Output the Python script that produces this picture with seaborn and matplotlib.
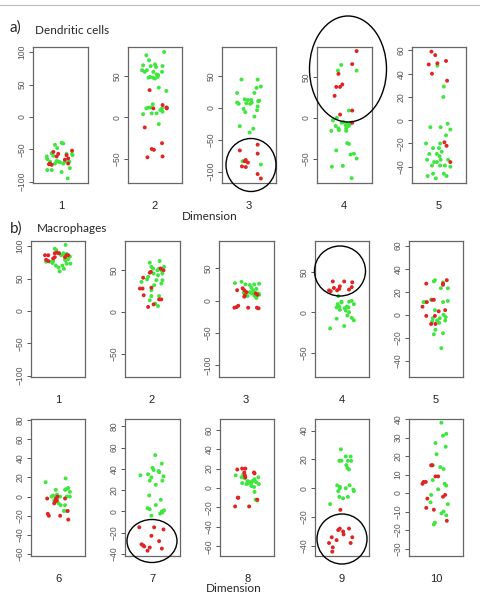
import pandas as pd
import matplotlib
matplotlib.use("Agg")
import matplotlib.pyplot as plt
import seaborn as sns
from matplotlib.patches import Ellipse
from matplotlib.lines import Line2D

sns.set_style("white")
plt.rcParams["font.family"] = ["Liberation Sans", "DejaVu Sans"]

RED = "#e02424"
GREEN = "#3ee63e"

# (jitter position within panel, value) for each dimension
a1_green = [(0.40, -43), (0.52, -40), (0.55, -41), (0.44, -48), (0.34, -56), (0.37, -60), (0.61, -57),
            (0.71, -57), (0.25, -61), (0.26, -65), (0.31, -69), (0.46, -69), (0.49, -70), (0.58, -69),
            (0.64, -70), (0.66, -69), (0.55, -72), (0.40, -72), (0.43, -68), (0.26, -82), (0.34, -82),
            (0.52, -85), (0.67, -79), (0.63, -95), (0.72, -59)]
a1_red = [(0.37, -54), (0.46, -57), (0.43, -61), (0.61, -59), (0.64, -64), (0.71, -52), (0.31, -72),
          (0.34, -74), (0.29, -73), (0.64, -72), (0.58, -66)]

a2_green = [(0.34, 75), (0.67, 79), (0.39, 69), (0.28, 63), (0.31, 55), (0.26, 57), (0.50, 64), (0.52, 61),
            (0.42, 62), (0.64, 62), (0.63, 55), (0.53, 52), (0.55, 49), (0.50, 47), (0.46, 48), (0.41, 49),
            (0.56, 51), (0.38, 48), (0.71, 32), (0.57, 36), (0.47, 55), (0.35, 57), (0.46, 16), (0.38, 12),
            (0.42, 12), (0.34, 11), (0.63, 11), (0.53, 5), (0.64, 7), (0.72, 12), (0.60, 9), (0.28, 4),
            (0.57, -8), (0.44, 5)]
a2_red = [(0.40, 33), (0.47, 11), (0.64, 15), (0.71, 12), (0.72, 11), (0.31, -12), (0.44, -38), (0.48, -39),
          (0.63, -31), (0.64, -47), (0.36, -48)]

a3_green = [(0.36, 44), (0.66, 44), (0.72, 33), (0.64, 31), (0.60, 23), (0.28, 23), (0.28, 8), (0.31, 6),
            (0.42, 13), (0.48, 12), (0.54, 12), (0.45, 7), (0.67, 10), (0.40, -2), (0.43, -7), (0.66, 2),
            (0.65, -4), (0.55, 8), (0.60, -14), (0.33, -29), (0.51, -39), (0.58, -33), (0.38, -84),
            (0.72, -89), (0.69, 11), (0.52, 6)]
a3_red = [(0.33, -67), (0.66, -58), (0.66, -72), (0.44, -82), (0.48, -86), (0.37, -92), (0.44, -93),
          (0.66, -104), (0.72, -111), (0.42, -84)]

a4_green = [(0.44, 65), (0.38, 58), (0.72, 58), (0.58, 9), (0.36, 0), (0.29, -3), (0.34, -10), (0.48, -5),
            (0.55, -7), (0.52, -9), (0.58, -10), (0.53, -13), (0.39, -13), (0.26, -16), (0.40, -15),
            (0.53, -16), (0.55, -31), (0.58, -32), (0.35, -40), (0.61, -45), (0.67, -44), (0.72, -50),
            (0.27, -60), (0.47, -59), (0.63, -74), (0.45, -6), (0.61, -7)]
a4_red = [(0.72, 82), (0.64, 66), (0.39, 54), (0.46, 41), (0.35, 38), (0.42, 38), (0.32, 27), (0.64, 9),
          (0.42, 4), (0.64, -6)]

a5_green = [(0.47, 47), (0.59, 29), (0.58, 20), (0.34, -6), (0.53, -6), (0.66, -3), (0.71, -8), (0.63, -13),
            (0.26, -20), (0.39, -24), (0.52, -20), (0.32, -29), (0.46, -29), (0.51, -31), (0.53, -34),
            (0.41, -36), (0.46, -36), (0.67, -34), (0.28, -34), (0.37, -39), (0.52, -39), (0.61, -39),
            (0.71, -40), (0.29, -48), (0.39, -46), (0.44, -50), (0.59, -46), (0.64, -48), (0.50, -24),
            (0.55, -27)]
a5_red = [(0.36, 59), (0.43, 56), (0.31, 48), (0.47, 49), (0.63, 51), (0.37, 40), (0.65, 34), (0.60, -19),
          (0.64, -22), (0.71, -36)]

b1_green = [(0.64, 102), (0.44, 96), (0.47, 94), (0.52, 89), (0.60, 89), (0.66, 88), (0.56, 86), (0.63, 85),
            (0.72, 84), (0.69, 80), (0.64, 78), (0.73, 73), (0.66, 73), (0.28, 76), (0.35, 76), (0.40, 74),
            (0.46, 70), (0.51, 67), (0.58, 70), (0.63, 79), (0.53, 61), (0.61, 65), (0.41, 77)]
b1_red = [(0.26, 86), (0.32, 86), (0.44, 89), (0.48, 90), (0.52, 89), (0.41, 81), (0.44, 83), (0.66, 86),
          (0.69, 86), (0.28, 79), (0.32, 77), (0.63, 83)]

b2_green = [(0.45, 59), (0.63, 61), (0.48, 54), (0.51, 52), (0.59, 50), (0.62, 52), (0.66, 50), (0.71, 54),
            (0.68, 46), (0.60, 44), (0.52, 46), (0.42, 42), (0.30, 36), (0.40, 39), (0.57, 38), (0.68, 38),
            (0.66, 34), (0.53, 32), (0.48, 26), (0.62, 19), (0.48, 19), (0.45, 14), (0.60, 7), (0.55, 10)]
b2_red = [(0.45, 47), (0.47, 48), (0.65, 52), (0.70, 50), (0.33, 41), (0.27, 28), (0.32, 28), (0.34, 20),
          (0.48, 29), (0.62, 15), (0.42, 6), (0.52, 9), (0.66, 15)]

b3_green = [(0.29, 27), (0.41, 29), (0.48, 25), (0.56, 24), (0.64, 25), (0.73, 26), (0.59, 20), (0.62, 16),
            (0.68, 18), (0.56, 13), (0.65, 12), (0.72, 11), (0.64, 8), (0.67, 6), (0.68, 4), (0.73, 9),
            (0.47, 9), (0.52, 7), (0.45, 12), (0.59, 11)]
b3_red = [(0.33, 16), (0.43, 19), (0.46, 16), (0.50, 13), (0.47, 8), (0.46, 6), (0.67, 11), (0.70, 9),
          (0.35, -8), (0.32, -10), (0.28, -11), (0.53, -11), (0.69, -11), (0.72, -12)]

b4_green = [(0.43, 20), (0.49, 13), (0.42, 10), (0.45, 7), (0.68, 14), (0.63, 13), (0.72, 10), (0.59, 7),
            (0.62, 6), (0.55, 5), (0.40, 6), (0.46, 3), (0.57, 2), (0.63, 0), (0.60, -4), (0.68, -7),
            (0.40, -8), (0.72, -10), (0.54, -17), (0.28, -20), (0.49, 12)]
b4_red = [(0.33, 38), (0.54, 38), (0.69, 37), (0.46, 32), (0.35, 30), (0.26, 27), (0.29, 26), (0.41, 27),
          (0.45, 29), (0.63, 28), (0.68, 31)]

b5_green = [(0.46, 29), (0.48, 30), (0.63, 28), (0.59, 23), (0.72, 23), (0.27, 11), (0.30, 11), (0.41, 13),
            (0.63, 11), (0.72, 12), (0.48, 4), (0.64, 0), (0.68, -2), (0.57, -3), (0.52, -5), (0.56, -7),
            (0.67, -5), (0.44, -3), (0.43, -6), (0.49, -13), (0.46, -17), (0.63, -16), (0.60, -29)]
b5_red = [(0.32, 27), (0.70, 30), (0.63, 27), (0.63, 26), (0.25, 7), (0.33, 11), (0.43, 13), (0.46, 13),
          (0.55, 3), (0.67, 4), (0.32, -1), (0.41, -8), (0.49, -8), (0.48, -1)]

b6_green = [(0.27, 15), (0.64, 19), (0.66, 8), (0.69, 9), (0.72, 5), (0.63, 7), (0.46, 7), (0.41, 1),
            (0.48, 2), (0.38, 0), (0.54, 0), (0.43, -4), (0.51, -7), (0.55, -9), (0.63, -9), (0.72, 0),
            (0.66, 0), (0.61, -15), (0.66, -15), (0.48, -1)]
b6_red = [(0.30, -2), (0.49, 0), (0.46, -2), (0.45, -5), (0.43, -7), (0.48, -4), (0.63, -2), (0.68, -15),
          (0.31, -18), (0.33, -20), (0.54, -20), (0.69, -24)]

b7_green = [(0.55, 53), (0.67, 45), (0.28, 34), (0.42, 35), (0.52, 39), (0.50, 41), (0.61, 38), (0.62, 37),
            (0.48, 32), (0.45, 29), (0.70, 33), (0.68, 29), (0.56, 25), (0.44, 15), (0.65, 11), (0.56, 6),
            (0.41, 3), (0.45, 2), (0.67, 0), (0.71, 1), (0.64, -2), (0.68, -1), (0.48, -4)]
b7_red = [(0.26, -15), (0.53, -15), (0.70, -17), (0.48, -23), (0.62, -28), (0.30, -31), (0.33, -32),
          (0.35, -33), (0.45, -34), (0.41, -37), (0.67, -35)]

b8_green = [(0.29, 13), (0.43, 14), (0.40, 11), (0.46, 10), (0.51, 7), (0.55, 6), (0.49, 4), (0.41, 5),
            (0.58, 5), (0.64, 9), (0.71, 11), (0.67, 6), (0.63, 8), (0.72, 4), (0.58, 2), (0.63, 1),
            (0.64, -4), (0.66, -12), (0.69, -13), (0.52, 5), (0.60, 7)]
b8_red = [(0.32, 19), (0.41, 20), (0.47, 20), (0.45, 16), (0.46, 13), (0.47, 11), (0.63, 16), (0.64, 15),
          (0.33, -10), (0.34, -10), (0.28, -19), (0.54, -19), (0.69, -12)]

b9_green = [(0.48, 27), (0.57, 22), (0.45, 19), (0.49, 19), (0.61, 19), (0.67, 19), (0.66, 22), (0.60, 14),
            (0.63, 13), (0.58, 16), (0.41, 2), (0.43, -2), (0.46, 0), (0.57, 0), (0.64, 2), (0.71, -1),
            (0.72, -2), (0.45, -6), (0.52, -7), (0.61, -6), (0.28, -11), (0.46, 1)]
b9_red = [(0.47, -15), (0.46, -28), (0.63, -28), (0.52, -30), (0.43, -29), (0.53, -32), (0.40, -36),
          (0.31, -34), (0.69, -34), (0.26, -38), (0.33, -41), (0.32, -44), (0.66, -38)]

b10_green = [(0.60, 38), (0.69, 32), (0.63, 31), (0.49, 27), (0.68, 25), (0.51, 21), (0.58, 14), (0.64, 13),
             (0.44, 7), (0.44, 15), (0.54, 2), (0.66, 5), (0.69, 4), (0.41, -1), (0.40, -5), (0.72, -6),
             (0.64, -10), (0.60, -11), (0.69, -12), (0.48, -16), (0.46, -17)]
b10_red = [(0.25, 5), (0.27, 6), (0.31, 6), (0.41, 15), (0.43, 15), (0.49, 9), (0.54, 9), (0.34, -3),
           (0.46, -9), (0.32, -8), (0.63, -2), (0.67, -1), (0.70, -15)]

dim_labels = ["1", "2", "3", "4", "5", "6", "7", "8", "9", "10"]

W, H = 480, 600


def box(x0, x1, y0, y1):
    return [x0 / W, 1 - y1 / H, (x1 - x0) / W, (y1 - y0) / H]


# green, red, ylim, yticks, frame in pixels (x0, x1, y0, y1)
panels = [
    (a1_green, a1_red, (-102, 108), [-100, -50, 0, 50, 100], (33, 88, 47, 183)),
    (a2_green, a2_red, (-79, 85), [-50, 0, 50], (128, 182, 47, 183)),
    (a3_green, a3_red, (-118, 95), [-100, -50, 0, 50], (222, 276, 47, 183)),
    (a4_green, a4_red, (-80, 87), [-50, 0, 50], (317, 372, 47, 183)),
    (a5_green, a5_red, (-54, 63), [-40, -20, 0, 20, 40, 60], (412, 466, 47, 183)),
    (b1_green, b1_red, (-102, 108), [-100, -50, 0, 50, 100], (31, 85, 241, 377)),
    (b2_green, b2_red, (-78, 85), [-50, 0, 50], (125, 180, 241, 377)),
    (b3_green, b3_red, (-118, 92), [-100, -50, 0, 50], (219, 274, 241, 377)),
    (b4_green, b4_red, (-80, 88), [-50, 0, 50], (315, 369, 241, 377)),
    (b5_green, b5_red, (-54, 64), [-40, -20, 0, 20, 40, 60], (409, 463, 241, 377)),
    (b6_green, b6_red, (-62, 81), [-60, -40, -20, 0, 20, 40, 60, 80], (31, 85, 419, 556)),
    (b7_green, b7_red, (-42, 87), [-40, -20, 0, 20, 40, 60, 80], (125, 180, 419, 556)),
    (b8_green, b8_red, (-70, 71), [-60, -40, -20, 0, 20, 40, 60], (220, 274, 419, 556)),
    (b9_green, b9_red, (-47, 48), [-40, -20, 0, 20, 40], (315, 369, 419, 556)),
    (b10_green, b10_red, (-34, 40), [-30, -20, -10, 0, 10, 20, 30, 40], (409, 463, 419, 556)),
]

fig = plt.figure(figsize=(4.8, 6), dpi=100)

for green, red, ylim, ticks, (x0, x1, y0, y1) in panels:
    ax = fig.add_axes(box(x0, x1, y0, y1))
    df = pd.DataFrame(green + red, columns=["x", "y"])
    df["cell"] = ["green"] * len(green) + ["red"] * len(red)
    sns.scatterplot(data=df, x="x", y="y", hue="cell", palette={"green": GREEN, "red": RED},
                    s=8, linewidth=0, legend=False, ax=ax)
    ax.set_xlim(0, 1)
    ax.set_ylim(*ylim)
    ax.set_xticks([])
    ax.set_yticks(ticks)
    ax.set_xlabel("")
    ax.set_ylabel("")
    ax.tick_params(axis="y", left=True, length=3, width=0.7, pad=1.5, labelsize=6.2,
                   colors="#555555", direction="out")
    plt.setp(ax.get_yticklabels(), rotation=90, va="center")
    for sp in ax.spines.values():
        sp.set_color("#666666")
        sp.set_linewidth(0.9)

# circles marking the separated groups
ellipses = [(251, 165, 50, 53), (348, 69, 77, 106), (340, 271, 51, 50), (152, 541, 50, 43), (342, 539, 50, 50)]
for cx, cy, w, h in ellipses:
    fig.add_artist(Ellipse((cx / W, 1 - cy / H), w / W, h / H, transform=fig.transFigure,
                           fill=False, ec="black", lw=1))

# dimension numbers under each panel
label_rows = [(206, [61, 155, 249, 344, 439], dim_labels[:5]),
              (400, [58, 152, 246, 342, 436], dim_labels[:5]),
              (579, [58, 152, 248, 342, 436], dim_labels[5:])]
for y, xs, labs in label_rows:
    for x, lab in zip(xs, labs):
        fig.text(x / W, 1 - y / H, lab, ha="center", va="center", fontsize=8, color="#222222")

cal = ["Lato", "DejaVu Sans"]
fig.text(210 / W, 1 - 216 / H, "Dimension", ha="center", va="center", fontsize=8.5, family=cal)
fig.text(234 / W, 1 - 588 / H, "Dimension", ha="center", va="center", fontsize=8.5, family=cal)
fig.text(10 / W, 1 - 28 / H, "a)", ha="left", va="center", fontsize=11, family=cal)
fig.text(35 / W, 1 - 30 / H, "Dendritic cells", ha="left", va="center", fontsize=8.5, family=cal)
fig.text(10 / W, 1 - 229 / H, "b)", ha="left", va="center", fontsize=11, family=cal)
fig.text(37 / W, 1 - 229 / H, "Macrophages", ha="left", va="center", fontsize=8.5, family=cal)

fig.add_artist(Line2D([0, 1], [1 - 5 / H, 1 - 5 / H], transform=fig.transFigure, color="#bbbbbb", lw=0.8))

fig.savefig("out.png", dpi=100)
